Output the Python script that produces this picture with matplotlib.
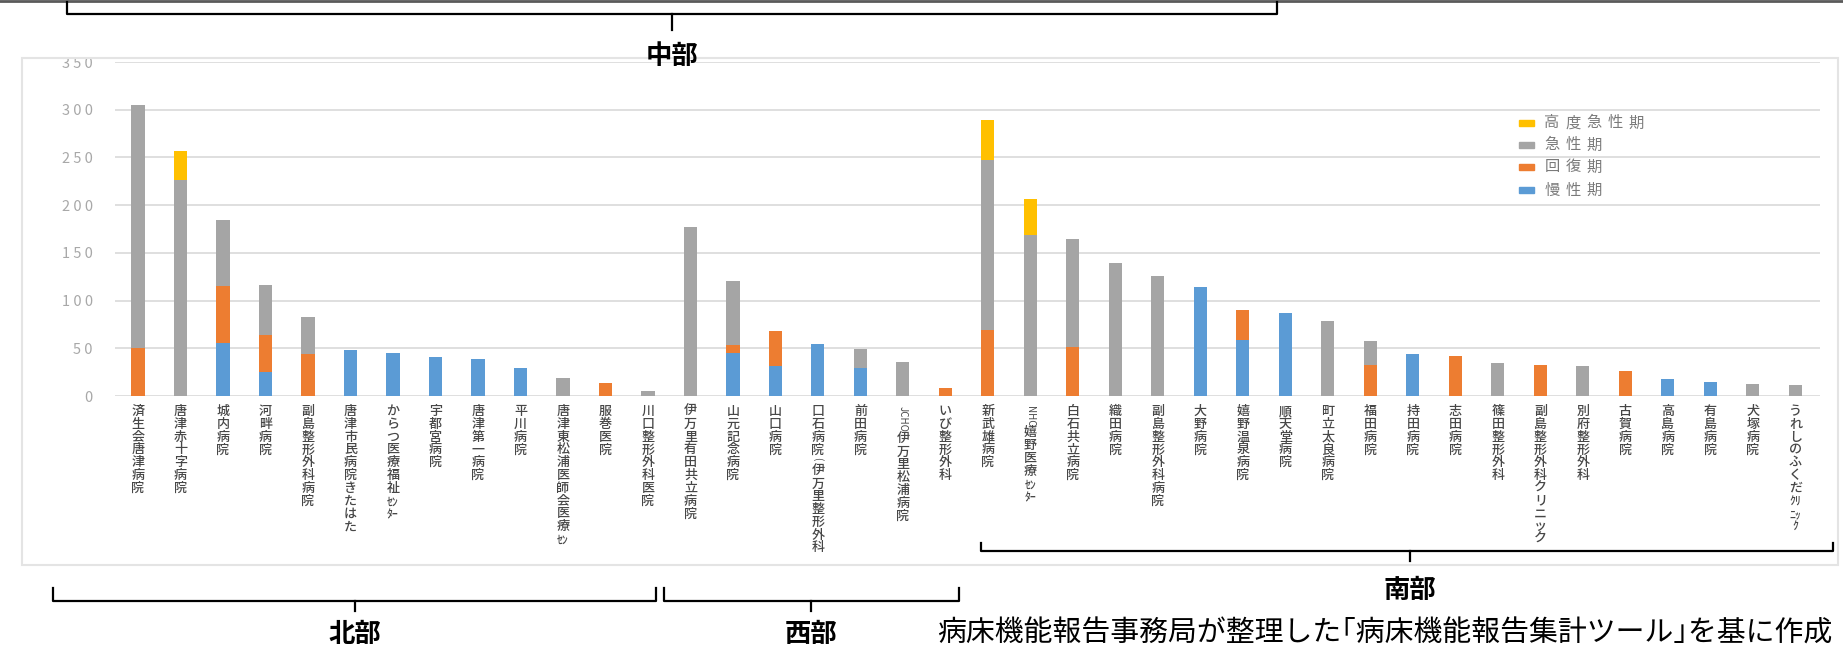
import matplotlib
matplotlib.use("Agg")
import matplotlib.pyplot as plt
from matplotlib.patches import Rectangle
from matplotlib.lines import Line2D

plt.rcParams['font.family'] = ['Noto Sans CJK JP', 'DejaVu Sans']

# hospitals, left to right
hospitals = [
    "済生会唐津病院", "唐津赤十字病院", "城内病院", "河畔病院", "副島整形外科病院",
    "唐津市民病院きたはた", "からつ医療福祉ｾﾝﾀｰ", "宇都宮病院", "唐津第一病院", "平川病院",
    "唐津東松浦医師会医療ｾﾝﾀｰ", "服巻医院", "川口整形外科医院",
    "伊万里有田共立病院", "山元記念病院", "山口病院", "口石病院(伊万里整形外科)", "前田病院",
    "JCHO伊万里松浦病院", "いび整形外科",
    "新武雄病院", "NHO嬉野医療ｾﾝﾀｰ", "白石共立病院", "織田病院", "副島整形外科病院",
    "大野病院", "嬉野温泉病院", "順天堂病院", "町立太良病院", "福田病院",
    "持田病院", "志田病院", "篠田整形外科", "副島整形外科クリニック", "別府整形外科",
    "古賀病院", "高島病院", "有島病院", "犬塚病院", "うれしのふくだｸﾘﾆｯｸ",
]

mansei = [0, 0, 56, 25, 0, 48, 45, 41, 39, 29, 0, 0, 0,
          0, 45, 31, 55, 29, 0, 0,
          0, 0, 0, 0, 0, 114, 59, 87, 0, 0, 44, 0, 0, 0, 0, 0, 18, 15, 0, 0]
kaifuku = [50, 0, 59, 39, 44, 0, 0, 0, 0, 0, 0, 14, 0,
           0, 8, 37, 0, 0, 0, 8,
           69, 0, 51, 0, 0, 0, 31, 0, 0, 33, 0, 42, 0, 33, 0, 26, 0, 0, 0, 0]
kyusei = [255, 226, 69, 52, 39, 0, 0, 0, 0, 0, 19, 0, 5,
          177, 68, 0, 0, 20, 36, 0,
          178, 169, 114, 139, 126, 0, 0, 0, 79, 25, 0, 0, 35, 0, 31, 0, 0, 0, 13, 12]
koudo = [0, 31, 0, 0, 0, 0, 0, 0, 0, 0, 0, 0, 0,
         0, 0, 0, 0, 0, 0, 0,
         42, 37, 0, 0, 0, 0, 0, 0, 0, 0, 0, 0, 0, 0, 0, 0, 0, 0, 0, 0]

series_names = ["慢性期", "回復期", "急性期", "高度急性期"]
series_vals = [mansei, kaifuku, kyusei, koudo]
series_colors = ["#5B9BD5", "#ED7D31", "#A5A5A5", "#FFC000"]

yticks = [0, 50, 100, 150, 200, 250, 300, 350]

regions = ["北部", "西部", "南部"]
top_region = "中部"
source = "病床機能報告事務局が整理した｢病床機能報告集計ツール｣を基に作成"

W, H = 1843, 648
fig = plt.figure(figsize=(W / 100, H / 100), dpi=100)


def fx(x):
    return x / W


def fy(y):
    return 1 - y / H


ax = fig.add_axes([fx(115), fy(396), fx(1820) - fx(115), fy(62) - fy(396)])

x = list(range(len(hospitals)))
bottom = [0] * len(hospitals)
for name, vals, col in zip(series_names, series_vals, series_colors):
    ax.bar(x, vals, width=0.31, bottom=bottom, color=col, label=name, zorder=3)
    bottom = [b + v for b, v in zip(bottom, vals)]

ax.set_xlim(-0.54, len(hospitals) - 1 + 0.58)
ax.set_ylim(0, 350)
ax.set_yticks(yticks)
ax.set_yticklabels([" ".join(str(v)) for v in yticks])
ax.tick_params(axis='y', length=0, pad=16, labelsize=10.5, labelcolor='#a8a8a8')
ax.set_xticks([])
ax.grid(axis='y', color='#dcdcdc', lw=1.3, zorder=0)
for s in ax.spines.values():
    s.set_visible(False)


def cells(name):
    # split a label into rows: full-width glyphs one per row,
    # half-width kana two per row, ascii runs turned sideways
    out = []
    j = 0
    while j < len(name):
        ch = name[j]
        if ch.isascii():
            k = j
            while k < len(name) and name[k].isascii():
                k += 1
            out.append((name[j:k], 'rot'))
            j = k
        elif '\uff61' <= ch <= '\uff9f':
            k = j
            while k < len(name) and k < j + 2 and '\uff61' <= name[k] <= '\uff9f':
                k += 1
            out.append((name[j:k], 'half'))
            j = k
        else:
            out.append((ch, 'full'))
            j += 1
    return out


px2pt = 72 / 100
pitch = 12.8
lab_col = '#474747'
for i, name in enumerate(hospitals):
    off = 9.0
    for txt, kind in cells(name):
        if kind == 'rot':
            step = pitch * 0.5 * len(txt) + 2
        else:
            step = pitch
        if off + step > 161:
            break
        kw = dict(xy=(i, 0), xycoords=('data', 'axes fraction'),
                  textcoords='offset points', ha='center', va='top',
                  color=lab_col, annotation_clip=False)
        if kind == 'rot':
            ax.annotate(txt, xytext=(0, -(off + 1) * px2pt), rotation=-90,
                        fontsize=7, **kw)
        elif kind == 'half':
            ax.annotate(txt, xytext=(0, -(off + 1) * px2pt), fontsize=8.5,
                        fontweight='medium', **kw)
        else:
            ax.annotate(txt, xytext=(0, -off * px2pt), fontsize=9.4,
                        fontweight='medium', **kw)
        off += step

# legend, drawn by hand to keep the wide letter spacing
leg_rows = [123, 145, 167, 190]
for row, name, col in zip(leg_rows, series_names[::-1], series_colors[::-1]):
    fig.patches.append(Rectangle((fx(1519), fy(row + 3)), fx(15), 6 / H,
                                 transform=fig.transFigure, color=col))
    for k, ch in enumerate(name):
        fig.text(fx(1552 + 21 * k), fy(row), ch, ha='center', va='center',
                 fontsize=11, color='#7a7a7a')

# chart area frame and top rule
fig.patches.append(Rectangle((fx(22), fy(565)), fx(1838) - fx(22), fy(58) - fy(565),
                             transform=fig.transFigure, fill=False,
                             edgecolor='#e4e4e4', lw=1.5))
fig.add_artist(Line2D([0, 1], [fy(1), fy(1)], color='#5a5a5a', lw=2))


def bracket(x0, x1, y_end, y_line, x_tick, y_tick):
    kw = dict(color='black', lw=1.6)
    fig.add_artist(Line2D([fx(x0), fx(x0), fx(x1), fx(x1)],
                          [fy(y_end), fy(y_line), fy(y_line), fy(y_end)], **kw))
    fig.add_artist(Line2D([fx(x_tick), fx(x_tick)], [fy(y_line), fy(y_tick)], **kw))


bracket(67, 1277, 2, 14, 672, 30)
fig.text(fx(672), fy(56), top_region, ha='center', va='center',
         fontsize=19, fontweight='bold')

bracket(53, 656, 588, 601, 355, 611)
bracket(664, 959, 588, 601, 811, 611)
bracket(981, 1833, 543, 551, 1410, 561)
for name, (tx, ty) in zip(regions, [(355, 634), (811, 634), (1410, 590)]):
    fig.text(fx(tx), fy(ty), name, ha='center', va='center',
             fontsize=19, fontweight='bold')

fig.text(fx(1832), fy(634), source, ha='right', va='center', fontsize=20.8)

fig.savefig("out.png", dpi=100)
